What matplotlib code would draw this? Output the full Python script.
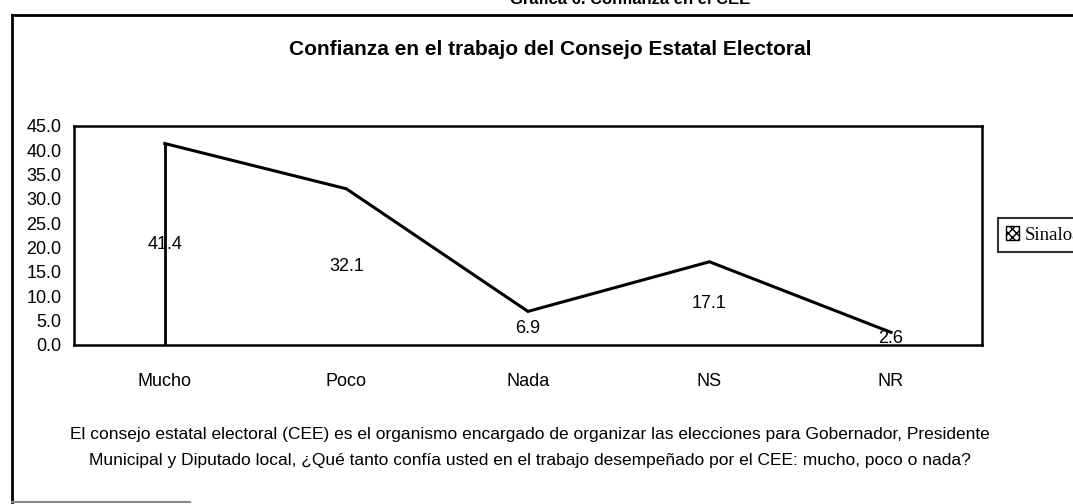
import matplotlib

matplotlib.use("Agg")
import matplotlib.pyplot as plt
from matplotlib import font_manager
from matplotlib.patches import Patch
from matplotlib.lines import Line2D

categories = ["Mucho", "Poco", "Nada", "NS", "NR"]
values = [41.4, 32.1, 6.9, 17.1, 2.6]
value_labels = ["41.4", "32.1", "6.9", "17.1", "2.6"]
y_ticks = [0, 5, 10, 15, 20, 25, 30, 35, 40, 45]
series_name = "Sinaloa"

title = "Confianza en el trabajo del Consejo Estatal Electoral"
header = "Gráfica 6. Confianza en el CEE"
note_lines = [
    "El consejo estatal electoral (CEE) es el organismo encargado de organizar las elecciones para Gobernador, Presidente",
    "Municipal y Diputado local, ¿Qué tanto confía usted en el trabajo desempeñado por el CEE: mucho, poco o nada?",
]

installed = {f.name for f in font_manager.fontManager.ttflist}
narrow = "Liberation Sans Narrow" if "Liberation Sans Narrow" in installed else "Liberation Sans"
plt.rcParams["font.family"] = [narrow, "DejaVu Sans"]

fig = plt.figure(figsize=(10.73, 5.04), dpi=100)
ax = fig.add_axes([0.069, 0.3155, 0.846, 0.4345])

x = list(range(len(categories)))
ax.plot(x, values, color="black", linewidth=2.2, solid_joinstyle="miter")
ax.vlines(x[0], 0, values[0], color="black", linewidth=2.0)

for xi, v, lab in zip(x, values, value_labels):
    ax.text(xi, v / 2, lab, ha="center", va="center", fontsize=13)

ax.set_xlim(-0.5, len(categories) - 0.5)
ax.set_ylim(0, 45)
ax.set_yticks(y_ticks)
ax.set_yticklabels([f"{t:.1f}" for t in y_ticks], fontsize=13)
ax.set_xticks(x)
ax.set_xticklabels(categories, fontsize=13)
ax.tick_params(axis="y", length=0, pad=9)
ax.tick_params(axis="x", length=0, pad=20)
for spine in ax.spines.values():
    spine.set_linewidth(1.8)

fig.text(0.5126, 0.9008, title, ha="center", va="center", fontsize=15, fontweight="bold")
fig.text(0.587, 1.0, header, ha="center", va="center", fontsize=12, fontweight="bold")
fig.text(0.494, 0.137, note_lines[0], ha="center", va="center", fontsize=12.5)
fig.text(0.494, 0.087, note_lines[1], ha="center", va="center", fontsize=12.5)

# outer frame (partly cut off in the scan)
fig.add_artist(Line2D([0.0112, 0.0112], [0.004, 0.970], color="black", linewidth=2))
fig.add_artist(Line2D([0.0112, 1.0], [0.970, 0.970], color="black", linewidth=2))
fig.add_artist(Line2D([0.0112, 0.177], [0.004, 0.004], color="#888888", linewidth=1.5))

handle = Patch(facecolor="white", edgecolor="black", hatch="xxxx", linewidth=1)
leg = fig.legend(
    [handle],
    [series_name],
    loc="upper left",
    bbox_to_anchor=(0.930, 0.5675),
    borderaxespad=0,
    frameon=True,
    fancybox=False,
    edgecolor="black",
    handlelength=0.7,
    handleheight=0.7,
    handletextpad=0.3,
    borderpad=0.45,
    prop={"family": "Liberation Serif", "size": 13.5},
)
leg.get_frame().set_linewidth(1.5)

fig.savefig("out.png", dpi=100, facecolor="white")
